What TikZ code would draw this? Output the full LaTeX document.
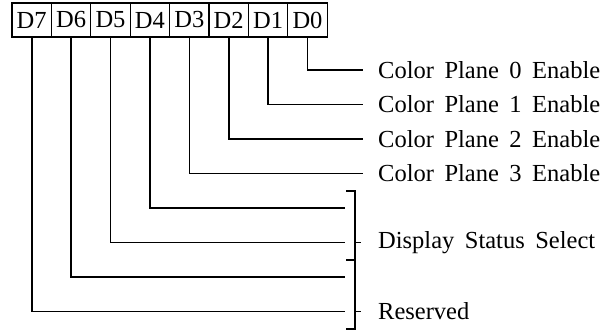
\documentclass[tikz,border=0pt]{standalone}
\usepackage{fontspec}
\setmainfont{Liberation Serif}
\usepackage{tikz}
\usetikzlibrary{positioning}
\newcommand\regfont{\fontsize{24.5}{28}\selectfont\spaceskip 10.5pt\relax}

\begin{document}
\begin{tikzpicture}[x=1pt, y=-1pt,
  every node/.style={font=\regfont},
  bit/.style={draw, line width=1.2pt, minimum width=39.4pt, minimum height=34pt, inner sep=0pt},
  lbl/.style={anchor=west, inner xsep=15pt, inner ysep=0pt},
  wire/.style={line width=1.6pt}]
\useasboundingbox (0,0) rectangle (616,330);
% register bits
\foreach \i in {0,...,7} {
  \pgfmathtruncatemacro\b{7-\i}
  \node[bit] (d\b) at (31.7+39.4*\i,20) {D\b};
}
% colour plane enables
\foreach \k/\y in {0/70,1/104.5,2/139,3/173.5} {
  \node[lbl] (l\k) at (363,\y) {Color Plane \k\ Enable};
  \draw[wire] (d\k.south) |- (l\k.west);
}
% upper bits into the brackets
\foreach \k/\y in {4/208,5/242.5,6/277,7/311.5} {
  \coordinate (b\k) at (345,\y);
  \draw[wire] (d\k.south) |- (b\k);
}
\draw[wire] (346,191) -| (355,329) -- (346,329);
\draw[wire] (346,260) -- (355,260);
\coordinate (ds) at (355,242.5);
\coordinate (rs) at (355,311.5);
\node[lbl, inner xsep=23pt] (dsl) at (ds) {Display Status Select};
\node[lbl, inner xsep=23pt] (rsl) at (rs) {Reserved};
\draw[wire] (ds) -- ([xshift=6pt]ds);
\draw[wire] (rs) -- ([xshift=6pt]rs);
\end{tikzpicture}
\end{document}
